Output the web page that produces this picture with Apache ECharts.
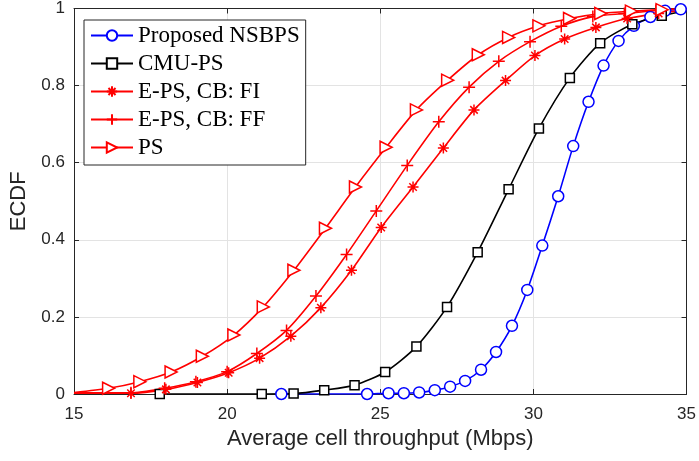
<!DOCTYPE html>
<html>
<head>
<meta charset="utf-8">
<script src="https://cdn.jsdelivr.net/npm/echarts@6/dist/echarts.min.js"></script>
<style>html,body{margin:0;padding:0;background:#fff}#c{width:699px;height:461px}</style>
</head>
<body>
<div id="c"></div>
<script>
// ---- data ----
const seriesNames = ['Proposed NSBPS', 'CMU-PS', 'E-PS, CB: FI', 'E-PS, CB: FF', 'PS'];
const xTicks = [15, 20, 25, 30, 35];
const yTicks = [0, 0.2, 0.4, 0.6, 0.8, 1];

const nsbpsX = [21.77, 24.57, 25.27, 25.77, 26.27, 26.78, 27.28, 27.77, 28.29, 28.78, 29.30, 29.80, 30.29, 30.81, 31.30, 31.80, 32.29, 32.78, 33.28, 33.82, 34.30, 34.81, 35];
const nsbpsY = [0, 0, 0.002, 0.002, 0.004, 0.010, 0.019, 0.034, 0.063, 0.109, 0.177, 0.270, 0.385, 0.513, 0.643, 0.758, 0.852, 0.916, 0.955, 0.978, 0.994, 0.998, 1.0];

const cmuX = [17.80, 21.13, 22.17, 23.17, 24.16, 25.16, 26.18, 27.18, 28.18, 29.19, 30.18, 31.19, 32.18, 33.23, 34.19, 35];
const cmuY = [0, 0, 0.001, 0.010, 0.023, 0.057, 0.123, 0.226, 0.368, 0.531, 0.689, 0.820, 0.910, 0.959, 0.981, 0.995];

const fiX = [15, 16.86, 18.0, 19.03, 20.05, 21.06, 22.08, 23.06, 24.06, 25.03, 26.07, 27.06, 28.06, 29.09, 30.05, 31.02, 32.04, 33.06, 34.09, 35];
const fiY = [0.002, 0.002, 0.012, 0.030, 0.055, 0.093, 0.150, 0.224, 0.321, 0.432, 0.537, 0.638, 0.737, 0.813, 0.878, 0.921, 0.951, 0.974, 0.987, 0.997];

const ffX = [15, 16.86, 17.96, 18.98, 20.0, 20.97, 21.94, 22.90, 23.90, 24.87, 25.88, 26.91, 27.90, 28.87, 29.89, 30.91, 31.94, 32.97, 34.0, 35];
const ffY = [0.003, 0.003, 0.015, 0.032, 0.058, 0.105, 0.165, 0.254, 0.362, 0.475, 0.593, 0.706, 0.796, 0.863, 0.914, 0.954, 0.979, 0.987, 0.995, 0.999];

const psX = [15, 16.13, 17.15, 18.17, 19.19, 20.22, 21.18, 22.18, 23.21, 24.19, 25.19, 26.18, 27.20, 28.20, 29.19, 30.18, 31.18, 32.20, 33.20, 34.20, 35];
const psY = [0.004, 0.015, 0.032, 0.057, 0.098, 0.153, 0.226, 0.321, 0.430, 0.537, 0.640, 0.737, 0.814, 0.880, 0.925, 0.955, 0.974, 0.987, 0.993, 0.997, 0.999];

// ---- build ----
function build(xs, ys, noMarkFirst, noMarkLast) {
  return xs.map((x, i) => {
    const item = { value: [x, ys[i]] };
    if ((noMarkFirst && i === 0) || (noMarkLast && i === xs.length - 1)) item.symbol = 'none';
    return item;
  });
}
const SYM_STAR = 'path://M5,0L5,10M0,5L10,5M1.6,1.6L8.4,8.4M1.6,8.4L8.4,1.6';
const SYM_PLUS = 'path://M5,0L5,10M0,5L10,5';
const SYM_TRI = 'path://M0,0L10,5L0,10Z';

function mk(name, data, color, symbol, size) {
  return {
    name: name, type: 'line', data: data,
    smooth: 0.25,
    symbol: symbol, symbolSize: size, showAllSymbol: true,
    lineStyle: { color: color, width: 1.6 },
    itemStyle: { color: '#ffffff', borderColor: color, borderWidth: 1.5 },
    emphasis: { disabled: true },
    animation: false
  };
}

const chart = echarts.init(document.getElementById('c'), null, { renderer: 'canvas' });
const axisCol = '#262626';
const tickFont = { color: axisCol, fontFamily: 'Liberation Sans', fontSize: 17 };

chart.setOption({
  backgroundColor: '#ffffff',
  animation: false,
  grid: { left: 70, right: 9, top: 5, bottom: 67 },
  legend: {
    data: seriesNames,
    orient: 'vertical', left: 84, top: 20,
    backgroundColor: '#ffffff', borderColor: axisCol, borderWidth: 1,
    padding: [4, 6, 6, 6],
    itemGap: 5, itemWidth: 42, itemHeight: 13,
    textStyle: { fontFamily: 'Liberation Serif', fontSize: 23, color: '#000' }
  },
  xAxis: [{
    type: 'value', min: 15, max: 35, interval: 5,
    name: 'Average cell throughput (Mbps)', nameLocation: 'middle', nameGap: 45,
    nameTextStyle: { color: axisCol, fontFamily: 'Liberation Sans', fontSize: 22, verticalAlign: 'middle' },
    axisLine: { onZero: false, lineStyle: { color: axisCol, width: 1 } },
    axisTick: { inside: true, length: 5, lineStyle: { color: axisCol } },
    axisLabel: Object.assign({ margin: 12 }, tickFont),
    splitLine: { show: true, lineStyle: { color: '#e3e3e3', width: 1 } }
  }, {
    type: 'value', min: 15, max: 35, interval: 5, position: 'top',
    axisLine: { onZero: false, lineStyle: { color: axisCol, width: 1 } },
    axisTick: { inside: true, length: 5, lineStyle: { color: axisCol } },
    axisLabel: { show: false }, splitLine: { show: false }
  }],
  yAxis: [{
    type: 'value', min: 0, max: 1, interval: 0.2,
    name: 'ECDF', nameLocation: 'middle', nameGap: 55,
    nameTextStyle: { color: axisCol, fontFamily: 'Liberation Sans', fontSize: 22, verticalAlign: 'middle' },
    axisLine: { show: true, onZero: false, lineStyle: { color: axisCol, width: 1 } },
    axisTick: { show: true, inside: true, length: 5, lineStyle: { color: axisCol } },
    axisLabel: Object.assign({ margin: 9 }, tickFont),
    splitLine: { show: true, lineStyle: { color: '#e3e3e3', width: 1 } }
  }, {
    type: 'value', min: 0, max: 1, interval: 0.2, position: 'right',
    axisLine: { show: true, onZero: false, lineStyle: { color: axisCol, width: 1 } },
    axisTick: { show: true, inside: true, length: 5, lineStyle: { color: axisCol } },
    axisLabel: { show: false }, splitLine: { show: false }
  }],
  series: [
    mk(seriesNames[0], build(nsbpsX, nsbpsY, false, true), '#0000ff', 'circle', 11),
    mk(seriesNames[1], build(cmuX, cmuY, false, true), '#000000', 'rect', 9),
    mk(seriesNames[2], build(fiX, fiY, true, true), '#ff0000', SYM_STAR, 11),
    mk(seriesNames[3], build(ffX, ffY, true, true), '#ff0000', SYM_PLUS, 12),
    mk(seriesNames[4], build(psX, psY, true, true), '#ff0000', SYM_TRI, 12)
  ]
});
</script>
</body>
</html>
